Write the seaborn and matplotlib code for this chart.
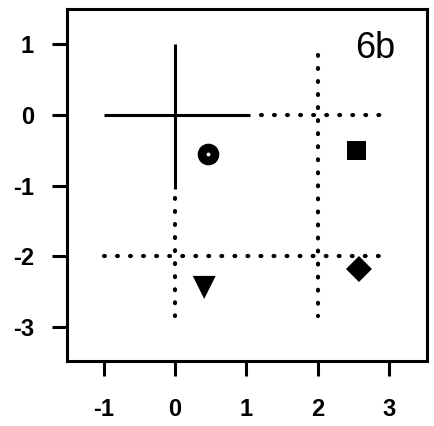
import matplotlib
matplotlib.use("Agg")
import matplotlib.pyplot as plt
import seaborn as sns
import pandas as pd

sns.set_theme(style="white")
plt.rcParams['font.family'] = ['Liberation Sans', 'DejaVu Sans']

# point data
pt_x = [0.46, 2.54, 0.41, 2.58]
pt_y = [-0.56, -0.50, -2.44, -2.18]
pt_kind = ["circle", "square", "triangle", "diamond"]

# solid segments (x0, x1, y0, y1)
solid_x0 = [0.0, -1.0]
solid_x1 = [0.0, 1.05]
solid_y0 = [1.0, 0.0]
solid_y1 = [-1.05, 0.0]

# dotted segments
dot_x0 = [1.2, 2.0, 0.0, -1.0]
dot_x1 = [2.9, 2.0, 0.0, 2.9]
dot_y0 = [0.0, 0.85, -1.17, -2.0]
dot_y1 = [0.0, -2.85, -2.85, -2.0]

xticks = [-1, 0, 1, 2, 3]
yticks = [1, 0, -1, -2, -3]
label = "6b"

fig = plt.figure(figsize=(4.35, 4.26), dpi=100)
ax = fig.add_axes([67.3 / 435, (426 - 361) / 426, (426.7 - 67.3) / 435, (361 - 9.3) / 426])

for x0, x1, y0, y1 in zip(solid_x0, solid_x1, solid_y0, solid_y1):
    ax.plot([x0, x1], [y0, y1], color="black", lw=2.2, solid_capstyle="butt")
for x0, x1, y0, y1 in zip(dot_x0, dot_x1, dot_y0, dot_y1):
    ax.plot([x0, x1], [y0, y1], color="black", lw=3.0,
            linestyle=(0, (0.2, 2.93)), dash_capstyle="round")

df = pd.DataFrame({"x": pt_x, "y": pt_y, "kind": pt_kind})
sub = df[df.kind != "circle"]
sns.scatterplot(data=sub, x="x", y="y", style="kind",
                markers={"square": "s", "triangle": "v", "diamond": "D"},
                s=200, color="black", linewidth=0,
                legend=False, ax=ax, zorder=3)
ax.collections[-1].set_sizes([190, 275, 175])
sns.scatterplot(data=df[df.kind == "circle"], x="x", y="y", marker="o",
                s=86, color="white", edgecolor="black", linewidth=6.3,
                legend=False, ax=ax, zorder=3)

ax.text(0.912, 0.8615, label, transform=ax.transAxes, ha="right", va="baseline",
        fontsize=26, color="black")

ax.set_xlim(-1.51, 3.53)
ax.set_ylim(-3.48, 1.49)
ax.set_xticks(xticks)
ax.set_yticks(yticks)
ax.set_xticklabels([str(t) for t in xticks], fontsize=17, fontweight="bold")
ax.set_yticklabels([str(t) for t in yticks], fontsize=17, fontweight="bold")
ax.set_xlabel("")
ax.set_ylabel("")
ax.tick_params(axis="both", direction="out", length=11, width=2.2,
               color="black", labelcolor="black",
               bottom=True, left=True)
ax.tick_params(axis="x", pad=16)
ax.tick_params(axis="y", pad=13)
for sp in ax.spines.values():
    sp.set_color("black")
    sp.set_linewidth(2.2)

fig.savefig("out.png", dpi=100)
